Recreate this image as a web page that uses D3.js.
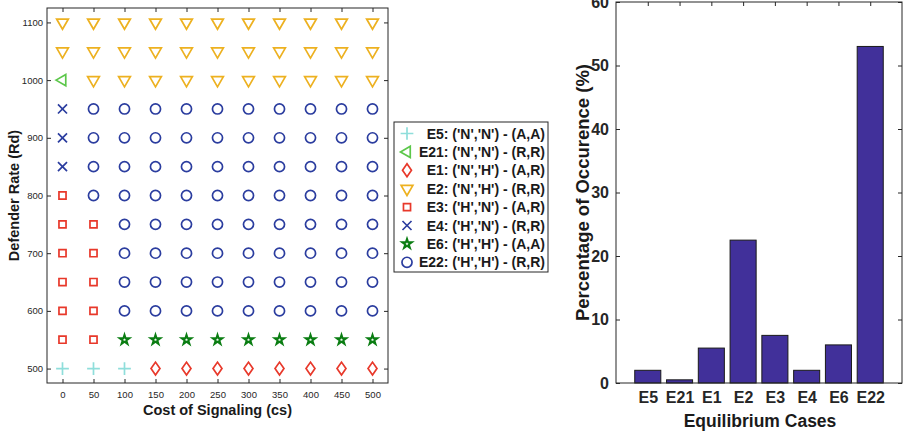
<!DOCTYPE html>
<html>
<head>
<meta charset="utf-8">
<script src="https://cdn.jsdelivr.net/npm/d3@7"></script>
<style>
  body { margin: 0; background: #fff; }
  svg { display: block; font-family: 'Liberation Sans', Arial, sans-serif; }
</style>
</head>
<body>
<div id="chart"></div>
<script>
'use strict';

// data
const costs = [0, 50, 100, 150, 200, 250, 300, 350, 400, 450, 500];
const rates = [1100, 1050, 1000, 950, 900, 850, 800, 750, 700, 650, 600, 550, 500];
// equilibrium case per (rate row, cost column)
const caseGrid = [
    ['E2', 'E2', 'E2', 'E2', 'E2', 'E2', 'E2', 'E2', 'E2', 'E2', 'E2'],
    ['E2', 'E2', 'E2', 'E2', 'E2', 'E2', 'E2', 'E2', 'E2', 'E2', 'E2'],
    ['E21', 'E2', 'E2', 'E2', 'E2', 'E2', 'E2', 'E2', 'E2', 'E2', 'E2'],
    ['E4', 'E22', 'E22', 'E22', 'E22', 'E22', 'E22', 'E22', 'E22', 'E22', 'E22'],
    ['E4', 'E22', 'E22', 'E22', 'E22', 'E22', 'E22', 'E22', 'E22', 'E22', 'E22'],
    ['E4', 'E22', 'E22', 'E22', 'E22', 'E22', 'E22', 'E22', 'E22', 'E22', 'E22'],
    ['E3', 'E22', 'E22', 'E22', 'E22', 'E22', 'E22', 'E22', 'E22', 'E22', 'E22'],
    ['E3', 'E3', 'E22', 'E22', 'E22', 'E22', 'E22', 'E22', 'E22', 'E22', 'E22'],
    ['E3', 'E3', 'E22', 'E22', 'E22', 'E22', 'E22', 'E22', 'E22', 'E22', 'E22'],
    ['E3', 'E3', 'E22', 'E22', 'E22', 'E22', 'E22', 'E22', 'E22', 'E22', 'E22'],
    ['E3', 'E3', 'E22', 'E22', 'E22', 'E22', 'E22', 'E22', 'E22', 'E22', 'E22'],
    ['E3', 'E3', 'E6', 'E6', 'E6', 'E6', 'E6', 'E6', 'E6', 'E6', 'E6'],
    ['E5', 'E5', 'E5', 'E1', 'E1', 'E1', 'E1', 'E1', 'E1', 'E1', 'E1']
];
const caseNames = ['E5', 'E21', 'E1', 'E2', 'E3', 'E4', 'E6', 'E22'];
const caseLabels = [
    "E5: ('N','N') - (A,A)",
    "E21: ('N','N') - (R,R)",
    "E1: ('N','H') - (A,R)",
    "E2: ('N','H') - (R,R)",
    "E3: ('H','N') - (A,R)",
    "E4: ('H','N') - (R,R)",
    "E6: ('H','H') - (A,A)",
    "E22: ('H','H') - (R,R)"
];
const percentages = [2, 0.5, 5.5, 22.5, 7.5, 2, 6, 53];
const costTicks = costs;
const rateTicks = [500, 600, 700, 800, 900, 1000, 1100];
const percentTicks = [0, 10, 20, 30, 40, 50, 60];

// marker styles
const markerStyle = {
    E5:  { type: d3.symbolPlus,     size: 55, color: '#8fdedb', tf: '' },
    E21: { type: d3.symbolTriangle, size: 55, color: '#5cc74a', tf: 'rotate(-90)' },
    E1:  { type: d3.symbolDiamond2, size: 80, color: '#e8382a', tf: 'scale(0.8,1.15)' },
    E2:  { type: d3.symbolTriangle, size: 60, color: '#edb120', tf: 'rotate(180)' },
    E3:  { type: d3.symbolSquare,   size: 50, color: '#e8382a', tf: '' },
    E4:  { type: d3.symbolTimes,    size: 55, color: '#2b3d9f', tf: '' },
    E6:  { type: d3.symbolStar,     size: 28, color: '#0a7d12', tf: '' },
    E22: { type: d3.symbolCircle,   size: 80, color: '#2b3d9f', tf: '' }
};

const W = 907, H = 431;
const axisColor = '#262626';

const svg = d3.select('#chart').append('svg')
    .attr('width', W)
    .attr('height', H);

function marker(g, code) {
    const s = markerStyle[code];
    g.append('path')
        .attr('d', d3.symbol().type(s.type).size(s.size)())
        .attr('transform', s.tf)
        .attr('fill', 'none')
        .attr('stroke', s.color)
        .attr('stroke-width', code === 'E6' ? 2 : 1.7)
        .attr('vector-effect', 'non-scaling-stroke');
}

// ---- left scatter ----
const L = { x0: 47, x1: 388, y0: 8, y1: 383 };
const x = d3.scaleLinear().domain([-25, 525]).range([L.x0, L.x1]);
const y = d3.scaleLinear().domain([475, 1125]).range([L.y1, L.y0]);

const left = svg.append('g');

left.append('rect')
    .attr('x', L.x0).attr('y', L.y0)
    .attr('width', L.x1 - L.x0).attr('height', L.y1 - L.y0)
    .attr('fill', 'none').attr('stroke', axisColor).attr('stroke-width', 1);

function styleAxis(g, fontSize, weight) {
    g.select('.domain').remove();
    g.selectAll('.tick line').attr('stroke', axisColor);
    g.selectAll('.tick text')
        .attr('fill', axisColor)
        .style('font-size', fontSize + 'px')
        .style('font-weight', weight);
}

left.append('g')
    .attr('transform', `translate(0,${L.y1})`)
    .call(d3.axisBottom(x).tickValues(costTicks).tickSize(-4).tickPadding(8))
    .call(g => styleAxis(g, 9.5, 'normal'));
left.append('g')
    .attr('transform', `translate(0,${L.y0})`)
    .call(d3.axisTop(x).tickValues(costTicks).tickSize(-4).tickFormat(''))
    .call(g => styleAxis(g, 9.5, 'normal'));
left.append('g')
    .attr('transform', `translate(${L.x0},0)`)
    .call(d3.axisLeft(y).tickValues(rateTicks).tickSize(-4).tickPadding(4).tickFormat(d3.format('d')))
    .call(g => styleAxis(g, 9.5, 'normal'));
left.append('g')
    .attr('transform', `translate(${L.x1},0)`)
    .call(d3.axisRight(y).tickValues(rateTicks).tickSize(-4).tickFormat(''))
    .call(g => styleAxis(g, 9.5, 'normal'));

const points = [];
caseGrid.forEach((row, i) => row.forEach((code, j) => {
    points.push({ cs: costs[j], rd: rates[i], code });
}));

left.append('g').selectAll('g')
    .data(points)
    .join('g')
    .attr('transform', d => `translate(${x(d.cs)},${y(d.rd)})`)
    .each(function (d) { marker(d3.select(this), d.code); });

left.append('text')
    .attr('x', (L.x0 + L.x1) / 2).attr('y', 415)
    .attr('text-anchor', 'middle')
    .style('font-size', '14.5px').style('font-weight', 'bold')
    .attr('fill', '#1a1a1a')
    .text('Cost of Signaling (cs)');
left.append('text')
    .attr('transform', `translate(19,${(L.y0 + L.y1) / 2}) rotate(-90)`)
    .attr('text-anchor', 'middle')
    .style('font-size', '14.5px').style('font-weight', 'bold')
    .attr('fill', '#1a1a1a')
    .text('Defender Rate (Rd)');

// legend
const legend = svg.append('g');
legend.append('rect')
    .attr('x', 394).attr('y', 122).attr('width', 154).attr('height', 150)
    .attr('fill', '#fff').attr('stroke', axisColor).attr('stroke-width', 1);
const items = legend.selectAll('g.item')
    .data(caseNames)
    .join('g')
    .attr('class', 'item')
    .attr('transform', (d, i) => `translate(0,${133.5 + i * 18.4})`);
items.append('g')
    .attr('transform', 'translate(407,0)')
    .each(function (d) { marker(d3.select(this), d); });
items.append('text')
    .attr('x', 545).attr('y', 5)
    .attr('text-anchor', 'end')
    .style('font-size', '14px').style('font-weight', 'bold')
    .attr('fill', '#1a1a1a')
    .text((d, i) => caseLabels[i]);

// ---- right bar chart ----
const R = { x0: 616, x1: 902, y0: 2, y1: 383 };
const bx = d3.scaleLinear().domain([0, 9]).range([R.x0, R.x1]);
const by = d3.scaleLinear().domain([0, 60]).range([R.y1, R.y0]);
const slot = bx(1) - bx(0);
const barW = slot * 0.82;

const right = svg.append('g');

right.append('g').selectAll('rect')
    .data(percentages)
    .join('rect')
    .attr('x', (d, i) => bx(i + 1) - barW / 2)
    .attr('y', d => by(d))
    .attr('width', barW)
    .attr('height', d => by(0) - by(d))
    .attr('fill', '#41309a')
    .attr('stroke', '#1a1a1a')
    .attr('stroke-width', 1);

right.append('rect')
    .attr('x', R.x0).attr('y', R.y0)
    .attr('width', R.x1 - R.x0).attr('height', R.y1 - R.y0)
    .attr('fill', 'none').attr('stroke', axisColor).attr('stroke-width', 1);

const catTicks = caseNames.map((d, i) => i + 1);
right.append('g')
    .attr('transform', `translate(0,${R.y1})`)
    .call(d3.axisBottom(bx).tickValues(catTicks).tickSize(0).tickPadding(9)
        .tickFormat(d => caseNames[d - 1]))
    .call(g => styleAxis(g, 16, 'bold'));
right.append('g')
    .attr('transform', `translate(0,${R.y0})`)
    .call(d3.axisTop(bx).tickValues(catTicks).tickSize(-4).tickFormat(''))
    .call(g => styleAxis(g, 16, 'bold'));
right.append('g')
    .attr('transform', `translate(${R.x0},0)`)
    .call(d3.axisLeft(by).tickValues(percentTicks).tickSize(-4).tickPadding(7))
    .call(g => styleAxis(g, 16, 'bold'));
right.append('g')
    .attr('transform', `translate(${R.x1},0)`)
    .call(d3.axisRight(by).tickValues(percentTicks).tickSize(-4).tickFormat(''))
    .call(g => styleAxis(g, 16, 'bold'));

right.append('text')
    .attr('x', 760).attr('y', 427)
    .attr('text-anchor', 'middle')
    .style('font-size', '17.5px').style('font-weight', 'bold')
    .attr('fill', '#1a1a1a')
    .text('Equilibrium Cases');
right.append('text')
    .attr('transform', `translate(589,${(R.y0 + R.y1) / 2}) rotate(-90)`)
    .attr('text-anchor', 'middle')
    .style('font-size', '18.5px').style('font-weight', 'bold')
    .attr('fill', '#1a1a1a')
    .text('Percentage of Occurence (%)');
</script>
</body>
</html>
